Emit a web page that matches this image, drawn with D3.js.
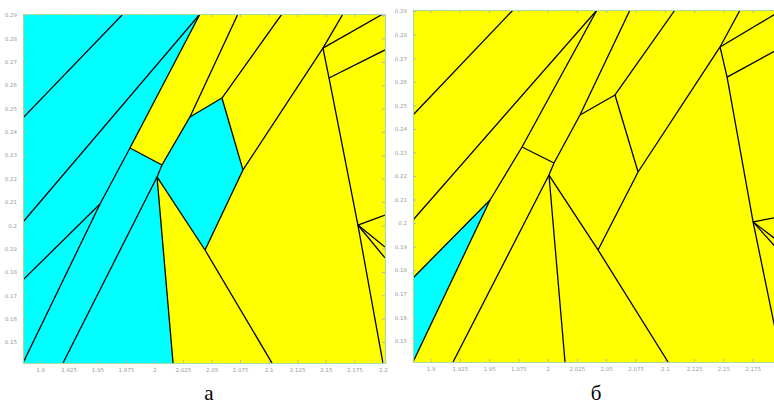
<!DOCTYPE html>
<html><head><meta charset="utf-8">
<script src="https://cdn.jsdelivr.net/npm/d3@7"></script>
<style>html,body{margin:0;padding:0;background:#fff;}svg{display:block;}</style>
</head><body>
<svg id="chart" width="774" height="407"></svg>
<script>
// ---------- data ----------
const xDomain = [1.885, 2.2018];
const yDomain = [0.141, 0.2905];
const xTicks = [1.9, 1.925, 1.95, 1.975, 2.0, 2.025, 2.05, 2.075, 2.1, 2.125, 2.15, 2.175, 2.2];
const xTickLabels = ["1.9","1.925","1.95","1.975","2","2.025","2.05","2.075","2.1","2.125","2.15","2.175","2.2"];
const yTicks = [0.15,0.16,0.17,0.18,0.19,0.2,0.21,0.22,0.23,0.24,0.25,0.26,0.27,0.28,0.29];
const yTickLabels = ["0.15","0.16","0.17","0.18","0.19","0.2","0.21","0.22","0.23","0.24","0.25","0.26","0.27","0.28","0.29"];
const panelCaptions = ["а", "б"];

// vertices of partition, panel a (data units)
const pointsA = {
  TL:[1.885,0.2905], A1:[1.885,0.2460], A2:[1.9725,0.2905], A3:[1.885,0.2014], A4:[2.0399,0.2905],
  A5:[1.885,0.1766], A6:[1.9524,0.2091], A7:[1.885,0.141], A8:[1.9786,0.2331], A9:[2.0066,0.2258],
  A10:[1.92,0.141], A11:[2.0023,0.2207], A12:[2.0311,0.2464], A13:[2.0731,0.2905], A14:[2.0163,0.141],
  A15:[2.0443,0.1894], A16:[2.1029,0.141], A17:[2.0591,0.2545], A18:[2.1116,0.2905], A19:[2.0775,0.2237],
  A20:[2.1475,0.2759], A21:[2.165,0.2905], A22:[2.2,0.2905], A23:[2.2,0.141], A24:[2.1528,0.2631],
  A25:[2.2018,0.2751], A26:[2.1781,0.2001], A27:[2.2018,0.2044], A28:[2.2018,0.1907], A29:[2.2018,0.1860]
};
const cyanA = [
  ["TL","A4","A8","A9","A11","A14","A7"],
  ["A9","A12","A17","A19","A15","A11"]
];
const edgesA = [
  ["A1","A2"],["A3","A4"],["A5","A6"],["A7","A6","A8"],["A4","A8"],["A8","A9"],["A10","A11"],
  ["A11","A9","A12","A13"],["A14","A11"],["A11","A15","A16"],["A12","A17","A18"],["A17","A19"],
  ["A15","A19","A20"],["A20","A21"],["A20","A22"],["A20","A24","A26","A23"],["A24","A25"],
  ["A26","A27"],["A26","A28"],["A26","A29"]
];

// vertices of partition, panel b (data units)
const pointsB = {
  B1:[1.885,0.2459], B2:[1.9704,0.2905], B3:[1.885,0.2013], B4:[2.0421,0.2905], B5:[1.885,0.1767],
  B6:[1.9508,0.2098], B7:[1.885,0.141], B8:[1.9781,0.2323], B9:[2.0054,0.2255], B10:[1.9192,0.141],
  B11:[2.0011,0.2204], B12:[2.0276,0.2459], B13:[2.0703,0.2905], B14:[2.0148,0.141], B15:[2.043,0.1886],
  B16:[2.1028,0.141], B17:[2.0575,0.2544], B18:[2.1087,0.2905], B19:[2.0772,0.2217], B20:[2.1472,0.2748],
  B21:[2.1643,0.2905], B22:[2.2,0.2905], B23:[2.2,0.141], B24:[2.1532,0.2620], B25:[2.2018,0.2752],
  B26:[2.1754,0.2005], B27:[2.2018,0.2030], B28:[2.2018,0.1905], B29:[2.2018,0.1858]
};
const cyanB = [
  ["B5","B6","B7"]
];
const edgesB = [
  ["B1","B2"],["B3","B4"],["B5","B6"],["B7","B6","B8"],["B4","B8"],["B8","B9"],["B10","B11"],
  ["B11","B9","B12","B13"],["B14","B11"],["B11","B15","B16"],["B12","B17","B18"],["B17","B19"],
  ["B15","B19","B20"],["B20","B21"],["B20","B22"],["B20","B24","B26","B23"],["B24","B25"],
  ["B26","B27"],["B26","B28"],["B26","B29"]
];

// ---------- drawing ----------
const svg = d3.select("#chart");
const CYAN = "#00ffff", YELLOW = "#ffff00";
const W = 774;

function drawPanel(idx, box, bg, points, cyanPolys, edges, caption, capX) {
  const x = d3.scaleLinear().domain(xDomain).range([box.x0, box.x1]);
  const y = d3.scaleLinear().domain(yDomain).range([box.y1, box.y0]);
  const g = svg.append("g");
  const clipId = "clip" + idx;
  svg.append("clipPath").attr("id", clipId).append("rect")
    .attr("x", box.x0).attr("y", box.y0).attr("width", box.x1 - box.x0).attr("height", box.y1 - box.y0);
  const inner = g.append("g").attr("clip-path", `url(#${clipId})`);
  inner.append("rect").attr("x", box.x0).attr("y", box.y0)
    .attr("width", box.x1 - box.x0).attr("height", box.y1 - box.y0).attr("fill", bg);
  const line = d3.line().x(d => x(points[d][0])).y(d => y(points[d][1]));
  inner.selectAll("path.cy").data(cyanPolys).join("path").attr("class","cy")
    .attr("d", d => line(d) + "Z").attr("fill", CYAN).attr("stroke", "none");
  inner.selectAll("path.ed").data(edges).join("path").attr("class","ed")
    .attr("d", d => line(d)).attr("fill", "none").attr("stroke", "#000")
    .attr("stroke-width", 1.3).attr("stroke-linejoin", "round");

  // only ticks whose labels fit inside the window get a label
  const labelIdx = xTicks.map((v,i) => i).filter(i => x(xTicks[i]) + 8 < W);
  const xLabVals = labelIdx.map(i => xTicks[i]);
  const axB = d3.axisBottom(x).tickValues(xLabVals)
    .tickFormat(d => xTickLabels[xTicks.indexOf(d)]).tickSize(-3).tickPadding(5);
  const axT = d3.axisTop(x).tickValues(xTicks).tickFormat("").tickSize(-3);
  const axL = d3.axisLeft(y).tickValues(yTicks).tickFormat((d,i) => yTickLabels[i]).tickSize(-3).tickPadding(6);
  const axR = d3.axisRight(y).tickValues(yTicks).tickFormat("").tickSize(-3);
  const ga = g.append("g").attr("class","axes");
  ga.append("g").attr("transform", `translate(0,${box.y1})`).call(axB);
  ga.append("g").attr("transform", `translate(0,${box.y0})`).call(axT);
  ga.append("g").attr("transform", `translate(${box.x0},0)`).call(axL);
  ga.append("g").attr("transform", `translate(${box.x1},0)`).call(axR);
  ga.selectAll(".domain").attr("stroke", "#a6dca0").attr("stroke-width", 1.2);
  ga.selectAll(".tick line").attr("stroke", "#b8b8b8");
  ga.selectAll(".tick text").attr("fill", "#9a9a9a").attr("font-size", "5.5px")
    .attr("font-family", "DejaVu Sans, sans-serif");

  svg.append("text").attr("x", capX).attr("y", 400).attr("text-anchor", "middle")
    .attr("font-family", "Liberation Serif, Times New Roman, serif").attr("font-size", "21px")
    .attr("fill", "#000").text(caption);
}

drawPanel(0, {x0:23, x1:385, y0:14, y1:363}, YELLOW, pointsA, cyanA, edgesA, panelCaptions[0], 209);
drawPanel(1, {x0:413, x1:784, y0:10, y1:362}, YELLOW, pointsB, cyanB, edgesB, panelCaptions[1], 596);
</script>
</body></html>
